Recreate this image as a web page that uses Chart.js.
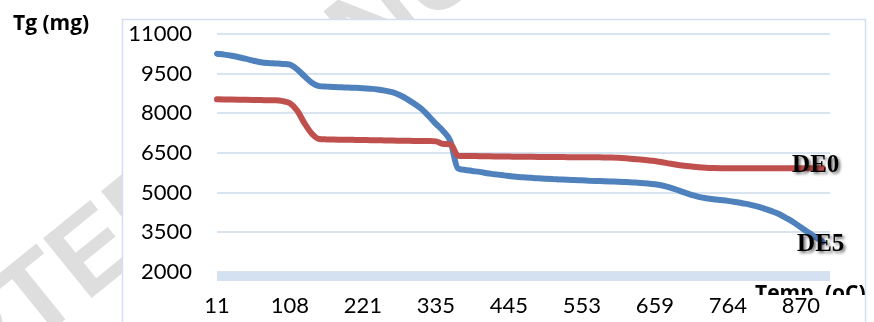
<!DOCTYPE html>
<html>
<head>
<meta charset="utf-8">
<script src="https://cdn.jsdelivr.net/npm/chart.js@4/dist/chart.umd.min.js"></script>
<style>
  html, body { margin: 0; padding: 0; background: #ffffff; overflow: hidden; }
  #wrap { position: relative; width: 874px; height: 322px; }
</style>
</head>
<body>
<div id="wrap"><canvas id="tg" width="874" height="322"></canvas></div>
<script>
// Temperatures printed under the axis (oC)
const tickLabels = ['11', '108', '221', '335', '445', '553', '659', '764', '870'];
// readings recorded between two printed temperatures
const stepsPerLabel = 10;
// value axis ticks (mg)
const yTicks = [2000, 3500, 5000, 6500, 8000, 9500, 11000];
const seriesNames = ['DE0', 'DE5'];

// DE0 mass readings (mg)
const de0 = [
  8530, 8525, 8520, 8515, 8510, 8505, 8500, 8498, 8493, 8460,
  8380, 8100, 7620, 7230, 7030, 7015, 7008, 7004, 7000, 6995,
  6990, 6985, 6980, 6975, 6970, 6966, 6962, 6958, 6955, 6950,
  6940, 6840, 6835, 6400, 6390, 6385, 6380, 6375, 6370, 6367,
  6364, 6361, 6358, 6355, 6352, 6350, 6348, 6346, 6344, 6342,
  6340, 6338, 6336, 6334, 6330, 6320, 6300, 6275, 6250, 6225,
  6195, 6150, 6100, 6055, 6020, 5990, 5960, 5940, 5930, 5925,
  5925, 5925, 5925, 5925, 5925, 5925, 5925, 5925, 5925, 5925,
  5925, 5925, 5925, 5925, null
];

// DE5 mass readings (mg)
const de5 = [
  10255, 10220, 10175, 10120, 10060, 9990, 9930, 9900, 9885, 9870,
  9840, 9660, 9400, 9160, 9030, 9010, 8995, 8985, 8975, 8965,
  8950, 8930, 8905, 8860, 8800, 8693, 8550, 8370, 8170, 7900,
  7600, 7330, 6930, 5921, 5860, 5820, 5785, 5735, 5700, 5665,
  5630, 5600, 5580, 5560, 5545, 5530, 5515, 5500, 5485, 5475,
  5465, 5455, 5445, 5435, 5425, 5415, 5400, 5385, 5370, 5350,
  5320, 5270, 5200, 5110, 5010, 4920, 4840, 4790, 4750, 4720,
  4690, 4650, 4600, 4550, 4480, 4400, 4300, 4190, 4040, 3880,
  3690, 3500, 3320, 3140, null
];

const categories = de0.map((_, i) =>
  i % stepsPerLabel === 0 ? (tickLabels[i / stepsPerLabel] ?? '') : '');

const GRID = '#d9e4f1';
const FRAME = '#d3dfee';
const BAND = '#d4e1f1';
const TICK_FONT = { family: 'Lato, "Open Sans", sans-serif', size: 22 };
const TITLE_FONT = 'bold 21px "Open Sans", Lato, sans-serif';

// page background: faint diagonal stamp, white chart box and its border
const backdrop = {
  id: 'backdrop',
  beforeDraw(chart) {
    const ctx = chart.ctx;
    ctx.save();
    ctx.fillStyle = '#ffffff';
    ctx.fillRect(0, 0, chart.width, chart.height);
    ctx.translate(250, 130);
    ctx.rotate(-39 * Math.PI / 180);
    ctx.font = 'bold 112px "Liberation Sans", Arial, sans-serif';
    ctx.fillStyle = '#dedede';
    ctx.textAlign = 'center';
    ctx.textBaseline = 'middle';
    ctx.fillText('ACCEPTED MANUSCRIPT', 0, 0);
    ctx.restore();

    ctx.save();
    ctx.fillStyle = '#ffffff';
    ctx.fillRect(122, 19, 743, chart.height - 19);
    ctx.strokeStyle = FRAME;
    ctx.lineWidth = 1.5;
    ctx.beginPath();
    ctx.moveTo(122.5, chart.height);
    ctx.lineTo(122.5, 19.5);
    ctx.lineTo(865.5, 19.5);
    ctx.lineTo(865.5, chart.height);
    ctx.stroke();
    ctx.restore();
  }
};

// thick pale floor under the lowest value line
const floorBand = {
  id: 'floorBand',
  beforeDatasetsDraw(chart) {
    const { ctx, chartArea, scales } = chart;
    const y0 = scales.y.getPixelForValue(scales.y.min);
    ctx.save();
    ctx.fillStyle = BAND;
    ctx.fillRect(chartArea.left, y0, chartArea.right - chartArea.left, 9);
    ctx.restore();
  }
};

// series names at the end of each curve, plus the two axis titles
const seriesTags = {
  id: 'seriesTags',
  afterDatasetsDraw(chart) {
    const ctx = chart.ctx;
    ctx.save();
    chart.data.datasets.forEach((ds, di) => {
      const meta = chart.getDatasetMeta(di);
      let last = null;
      meta.data.forEach((pt, i) => { if (ds.data[i] != null) last = pt; });
      if (!last) return;
      const off = ds.tagOffset || { x: 0, y: 0 };
      ctx.font = 'bold 25px "Liberation Serif", "Times New Roman", serif';
      ctx.textAlign = 'center';
      ctx.textBaseline = 'middle';
      ctx.shadowColor = 'rgba(0,0,0,0.55)';
      ctx.shadowOffsetX = 2;
      ctx.shadowOffsetY = 2;
      ctx.shadowBlur = 3;
      ctx.fillStyle = '#000000';
      ctx.fillText(ds.label, last.x + off.x, last.y + off.y);
    });
    ctx.restore();

    ctx.save();
    ctx.fillStyle = '#000000';
    ctx.font = TITLE_FONT;
    ctx.textAlign = 'left';
    ctx.textBaseline = 'alphabetic';
    ctx.fillText('Tg (mg)', 13, 30);
    ctx.beginPath();
    ctx.rect(740, 276, 134, 19);
    ctx.clip();
    ctx.fillText('Temp. (oC)', 755, 300);
    ctx.restore();
  }
};

new Chart(document.getElementById('tg'), {
  type: 'line',
  data: {
    labels: categories,
    datasets: [
      {
        label: seriesNames[0],
        data: de0,
        borderColor: '#c0504d',
        borderWidth: 6,
        pointRadius: 0,
        cubicInterpolationMode: 'monotone',
        borderCapStyle: 'round',
        fill: false,
        order: 0,
        tagOffset: { x: -7, y: -3 }
      },
      {
        label: seriesNames[1],
        data: de5,
        borderColor: '#4f81bd',
        borderWidth: 6,
        pointRadius: 0,
        cubicInterpolationMode: 'monotone',
        borderCapStyle: 'round',
        fill: false,
        order: 1,
        tagOffset: { x: -2, y: 3 }
      }
    ]
  },
  options: {
    responsive: false,
    animation: false,
    devicePixelRatio: 1,
    layout: { padding: { top: 34, right: 44, bottom: 0, left: 0 } },
    plugins: { legend: { display: false }, tooltip: { enabled: false } },
    scales: {
      x: {
        type: 'category',
        grid: { display: false },
        border: { display: false },
        ticks: {
          autoSkip: false,
          maxRotation: 0,
          padding: 13,
          color: '#000000',
          font: TICK_FONT
        },
        afterFit(scale) { scale.height = 50; }
      },
      y: {
        min: yTicks[0],
        max: yTicks[yTicks.length - 1],
        afterBuildTicks(scale) { scale.ticks = yTicks.map(v => ({ value: v })); },
        grid: { color: GRID, lineWidth: 2, drawTicks: false },
        border: { display: false },
        ticks: {
          padding: 25,
          color: '#000000',
          font: TICK_FONT,
          callback: v => String(v)
        },
        afterFit(scale) {
          scale.width = 217;
          scale.paddingTop = 0;
          scale.paddingBottom = 0;
        }
      }
    }
  },
  plugins: [backdrop, floorBand, seriesTags]
});
</script>
</body>
</html>
